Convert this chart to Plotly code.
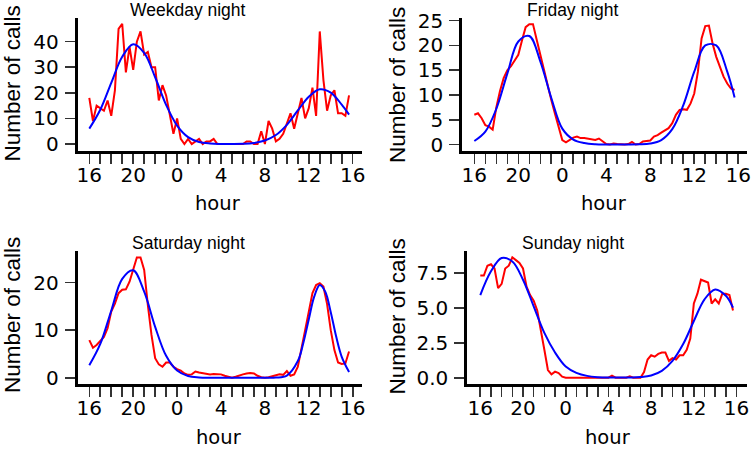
import plotly.graph_objects as go

# ---------------- data ----------------
# observed counts every 20 minutes, starting 16:00 (hour 16) through 15:40 next day
obs_hours = [16 + i / 3 for i in range(72)]

weekday_obs = [18, 9, 15, 14, 13, 17, 11, 21, 45, 47,
               28, 38, 29, 40, 44, 35, 36, 30, 30, 17,
               23, 19, 11, 4, 10, 2, 0, 2, 0, 1,
               2, 0, 1, 1, 2, 0, 0, 0, 0, 0,
               0, 0, 0, 1, 1, 0, 0, 5, 0, 9,
               6, 1, 2, 4, 8, 12, 6, 12, 18, 10,
               14, 22, 11, 44, 25, 13, 19, 21, 12, 12,
               11, 19]
friday_obs = [6.0, 6.3, 5.3, 3.9, 3.6, 3.0, 7.5, 10.8, 13.4, 15.0,
              15.8, 17.0, 18.1, 21.0, 23.7, 24.3, 24.3, 21.2, 18.0, 15.0,
              12.0, 9.0, 6.2, 3.3, 0.9, 0.45, 0.9, 1.4, 1.6, 1.3,
              1.3, 1.2, 1.0, 0.9, 1.2, 0.6, 0.1, 0.0, 0.2, 0.1,
              0.0, 0.0, 0.1, 0.5, 0.0, 0.1, 0.6, 0.7, 0.8, 1.6,
              1.9, 2.4, 2.9, 3.3, 4.3, 6.0, 7.0, 7.1, 7.0, 8.3,
              10.3, 14.7, 21.4, 23.9, 24.0, 20.4, 17.7, 15.7, 13.7, 12.3,
              11.3, 11.0]
saturday_obs = [7.9, 6.3, 6.9, 7.7, 8.6, 10.4, 13.9, 15.6, 17.8, 18.5,
                18.6, 20.2, 23.0, 25.3, 25.3, 22.7, 15.3, 9.0, 4.1, 2.8,
                2.3, 3.2, 3.2, 2.3, 1.8, 1.5, 0.9, 0.6, 0.7, 1.3,
                1.1, 1.0, 0.8, 0.7, 0.8, 0.8, 0.7, 0.4, 0.2, 0.0,
                0.2, 0.5, 0.7, 0.9, 1.0, 0.9, 0.4, 0.1, 0.0, 0.1,
                0.3, 0.5, 0.7, 0.6, 1.4, 0.4, 0.7, 2.3, 5.8, 10.0,
                13.9, 17.8, 19.5, 19.9, 19.2, 15.5, 10.0, 5.8, 3.2, 2.9,
                3.0, 5.5]
sunday_obs = [7.3, 7.3, 8.0, 8.1, 7.8, 6.4, 6.7, 7.8, 8.0, 8.6,
              8.4, 8.2, 7.8, 6.5, 5.9, 5.5, 4.8, 3.5, 2.0, 0.55,
              0.24, 0.43, 0.33, 0.07, 0.0, 0.0, 0.0, 0.0, 0.0, 0.0,
              0.0, 0.0, 0.0, 0.0, 0.0, 0.0, 0.0, 0.15, 0.0, 0.0,
              0.0, 0.0, 0.1, 0.0, 0.0, 0.0, 0.4, 1.3, 1.6, 1.5,
              1.7, 1.8, 1.8, 1.2, 1.4, 1.3, 1.6, 1.6, 2.0, 2.8,
              5.3, 6.0, 7.0, 6.9, 6.8, 5.3, 5.6, 5.3, 6.0, 6.0,
              5.9, 4.8]

# fitted curves
fit_hours = [16, 17, 18, 19, 20, 21, 22, 23, 24, 25, 26, 27, 28,
             29, 30, 31, 32, 33, 34, 35, 36, 37, 38, 39, 39.67]
weekday_fit = [6.0, 13.4, 23.9, 34.1, 39.0, 35.6, 26.1, 15.3, 7.2, 2.7, 0.8, 0.2, 0.03,
               0.03, 0.1, 0.4, 1.35, 3.5, 7.5, 13.1, 18.5, 21.4, 20.1, 15.4, 11.5]
friday_fit = [0.7, 2.6, 7.2, 14.3, 20.8, 21.9, 16.8, 9.4, 3.2, 1.0, 0.3, 0.05, 0.0,
              0.0, 0.0, 0.03, 0.2, 0.9, 3.1, 7.9, 14.7, 20.0, 20.0, 14.7, 9.5]
sunday_fit = [5.9, 7.6, 8.55, 8.3, 7.0, 5.1, 3.2, 1.8, 0.8, 0.35, 0.13, 0.04, 0.01,
              0.01, 0.02, 0.05, 0.16, 0.49, 1.2, 2.4, 4.05, 5.6, 6.3, 5.85, 5.0]
sat_fit_hours = [16, 17, 18, 19, 20, 21, 22, 23, 24, 25, 26, 27, 28, 29, 30, 31, 32,
                 33, 34, 35, 35.5, 36, 36.5, 37, 37.5, 38, 38.5, 39, 39.67]
saturday_fit = [2.6, 7.1, 14.1, 20.8, 22.6, 18.1, 10.7, 4.6, 1.5, 0.35, 0.06, 0.0, 0.0, 0.0, 0.0, 0.0, 0.0,
                0.03, 0.45, 3.5, 7.3, 12.3, 17.1, 19.5, 18.1, 13.8, 8.6, 4.4, 1.2]

titles = ["Weekday night", "Friday night", "Saturday night", "Sunday night"]
x_tick_vals = [16, 20, 24, 28, 32, 36, 40]
x_tick_text = ["16", "20", "0", "4", "8", "12", "16"]
y_ticks = [
    ([0, 10, 20, 30, 40], ["0", "10", "20", "30", "40"]),
    ([0, 5, 10, 15, 20, 25], ["0", "5", "10", "15", "20", "25"]),
    ([0, 10, 20], ["0", "10", "20"]),
    ([0, 2.5, 5, 7.5], ["0.0", "2.5", "5.0", "7.5"]),
]

# ---------------- layout geometry (pixels) ----------------
W, H = 751, 450
panels = [
    dict(px=(77.7, 362.0), py=(18.3, 150.7), xr=(14.943, 40.848), yr=(-2.62, 49.14)),
    dict(px=(462.3, 746.7), py=(18.3, 150.7), xr=(14.906, 40.77), yr=(-1.25, 25.48)),
    dict(px=(77.7, 361.7), py=(251.0, 384.3), xr=(14.943, 40.82), yr=(-1.39, 26.67)),
    dict(px=(467.3, 746.7), py=(251.0, 384.3), xr=(14.783, 40.95), yr=(-0.471, 9.05)),
]
obs_series = [weekday_obs, friday_obs, saturday_obs, sunday_obs]
fit_series = [(fit_hours, weekday_fit), (fit_hours, friday_fit),
              (sat_fit_hours, saturday_fit), (fit_hours, sunday_fit)]

tick_font = dict(family="DejaVu Sans", size=20, color="black")
tick_color = "#333333"

fig = go.Figure()
layout = dict(width=W, height=H, margin=dict(l=0, r=0, t=0, b=0, autoexpand=False),
              paper_bgcolor="white", plot_bgcolor="white", showlegend=False)

for k in range(4):
    n = "" if k == 0 else str(k + 1)
    p = panels[k]
    fig.add_trace(go.Scatter(x=obs_hours, y=obs_series[k], mode="lines",
                             line=dict(color="#FF0000", width=2),
                             xaxis="x" + n, yaxis="y" + n, hoverinfo="skip"))
    fh, fv = fit_series[k]
    fig.add_trace(go.Scatter(x=fh, y=fv, mode="lines",
                             line=dict(color="#0000FF", width=2, shape="spline", smoothing=1.0),
                             xaxis="x" + n, yaxis="y" + n, hoverinfo="skip"))
    layout["xaxis" + n] = dict(
        domain=[p["px"][0] / W, p["px"][1] / W], range=list(p["xr"]),
        anchor="y" + n, showline=True, linecolor="black", linewidth=3,
        showgrid=False, zeroline=False, automargin=False,
        ticks="outside", ticklen=10, tickwidth=1.6, tickcolor=tick_color,
        tickmode="array", tickvals=x_tick_vals, ticktext=x_tick_text,
        tickfont=tick_font, ticklabelstandoff=-6,
        minor=dict(tickmode="array", tickvals=list(range(16, 41)), ticks="outside",
                   ticklen=10, tickwidth=1.6, tickcolor=tick_color, showgrid=False),
    )
    layout["yaxis" + n] = dict(
        domain=[1 - p["py"][1] / H, 1 - p["py"][0] / H], range=list(p["yr"]),
        anchor="x" + n, showline=True, linecolor="black", linewidth=3,
        showgrid=False, zeroline=False, automargin=False,
        ticks="outside", ticklen=10, tickwidth=1.6, tickcolor=tick_color,
        tickmode="array", tickvals=y_ticks[k][0], ticktext=y_ticks[k][1],
        tickfont=tick_font, ticklabelstandoff=2,
    )

fig.update_layout(**layout)

title_pos = [(188.2, 9.9), (573.3, 9.9), (188.0, 243.2), (573.0, 243.2)]
hour_pos = [(218.3, 203.5), (604.2, 203.5), (218.8, 437.8), (607.5, 437.8)]
ylab_pos = [(12.6, 84.0), (397.1, 85.0), (12.6, 315.5), (397.1, 316.5)]
for k in range(4):
    fig.add_annotation(text=titles[k], x=title_pos[k][0] / W, y=1 - title_pos[k][1] / H,
                       xref="paper", yref="paper", showarrow=False,
                       xanchor="center", yanchor="middle",
                       font=dict(family="Liberation Sans", size=17.5, color="black"))
    fig.add_annotation(text="hour", x=hour_pos[k][0] / W, y=1 - hour_pos[k][1] / H,
                       xref="paper", yref="paper", showarrow=False,
                       xanchor="center", yanchor="middle",
                       font=dict(family="DejaVu Sans", size=19.5, color="black"))
    fig.add_annotation(text="Number of calls", x=ylab_pos[k][0] / W, y=1 - ylab_pos[k][1] / H,
                       xref="paper", yref="paper", showarrow=False, textangle=-90,
                       xanchor="center", yanchor="middle",
                       font=dict(family="Liberation Sans", size=22.5, color="black"))

fig.write_html("out.html", config={"displayModeBar": False, "staticPlot": True},
               post_script="document.body.style.margin='0';document.body.style.padding='0';"
                           "document.body.style.overflow='hidden';")
